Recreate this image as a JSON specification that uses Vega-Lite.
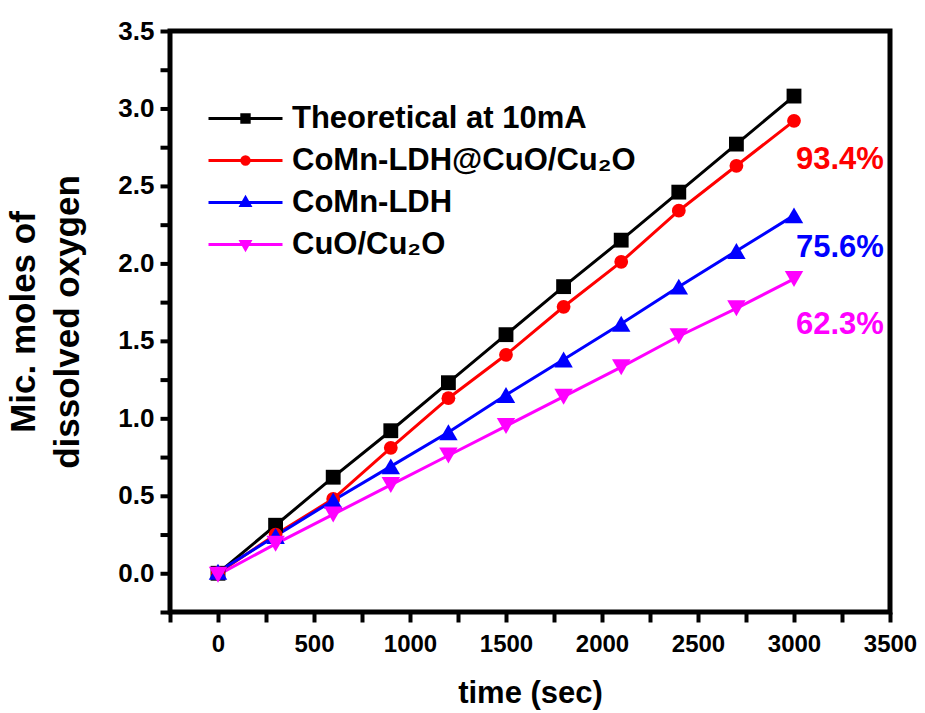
{
  "$schema": "https://vega.github.io/schema/vega-lite/v6.json",
  "width": 720,
  "height": 581,
  "autosize": "none",
  "padding": {"left": 170, "top": 31, "right": 35, "bottom": 101},
  "background": "white",
  "config": {
    "font": "Liberation Sans",
    "view": {"stroke": "black", "strokeWidth": 5},
    "axis": {"grid": false, "domain": false, "labelFont": "Liberation Sans", "labelFontWeight": "bold", "labelFontSize": 24, "labelColor": "black", "titleFont": "Liberation Sans", "titleFontWeight": "bold", "titleColor": "black", "tickColor": "black", "tickWidth": 4, "tickSize": 10, "labelOverlap": false, "labelBound": false, "labelFlush": false}
  },
  "datasets": {
    "pts": [
      {"time": 0, "value": 0.00, "series": "Theoretical at 10mA"},
      {"time": 300, "value": 0.31, "series": "Theoretical at 10mA"},
      {"time": 600, "value": 0.62, "series": "Theoretical at 10mA"},
      {"time": 900, "value": 0.92, "series": "Theoretical at 10mA"},
      {"time": 1200, "value": 1.23, "series": "Theoretical at 10mA"},
      {"time": 1500, "value": 1.54, "series": "Theoretical at 10mA"},
      {"time": 1800, "value": 1.85, "series": "Theoretical at 10mA"},
      {"time": 2100, "value": 2.15, "series": "Theoretical at 10mA"},
      {"time": 2400, "value": 2.46, "series": "Theoretical at 10mA"},
      {"time": 2700, "value": 2.77, "series": "Theoretical at 10mA"},
      {"time": 3000, "value": 3.08, "series": "Theoretical at 10mA"},
      {"time": 0, "value": 0.00, "series": "CoMn-LDH@CuO/Cu₂O"},
      {"time": 300, "value": 0.25, "series": "CoMn-LDH@CuO/Cu₂O"},
      {"time": 600, "value": 0.48, "series": "CoMn-LDH@CuO/Cu₂O"},
      {"time": 900, "value": 0.81, "series": "CoMn-LDH@CuO/Cu₂O"},
      {"time": 1200, "value": 1.13, "series": "CoMn-LDH@CuO/Cu₂O"},
      {"time": 1500, "value": 1.41, "series": "CoMn-LDH@CuO/Cu₂O"},
      {"time": 1800, "value": 1.72, "series": "CoMn-LDH@CuO/Cu₂O"},
      {"time": 2100, "value": 2.01, "series": "CoMn-LDH@CuO/Cu₂O"},
      {"time": 2400, "value": 2.34, "series": "CoMn-LDH@CuO/Cu₂O"},
      {"time": 2700, "value": 2.63, "series": "CoMn-LDH@CuO/Cu₂O"},
      {"time": 3000, "value": 2.92, "series": "CoMn-LDH@CuO/Cu₂O"},
      {"time": 0, "value": 0.01, "series": "CoMn-LDH"},
      {"time": 300, "value": 0.24, "series": "CoMn-LDH"},
      {"time": 600, "value": 0.47, "series": "CoMn-LDH"},
      {"time": 900, "value": 0.69, "series": "CoMn-LDH"},
      {"time": 1200, "value": 0.91, "series": "CoMn-LDH"},
      {"time": 1500, "value": 1.15, "series": "CoMn-LDH"},
      {"time": 1800, "value": 1.38, "series": "CoMn-LDH"},
      {"time": 2100, "value": 1.61, "series": "CoMn-LDH"},
      {"time": 2400, "value": 1.85, "series": "CoMn-LDH"},
      {"time": 2700, "value": 2.08, "series": "CoMn-LDH"},
      {"time": 3000, "value": 2.31, "series": "CoMn-LDH"},
      {"time": 0, "value": -0.01, "series": "CuO/Cu₂O"},
      {"time": 300, "value": 0.19, "series": "CuO/Cu₂O"},
      {"time": 600, "value": 0.38, "series": "CuO/Cu₂O"},
      {"time": 900, "value": 0.57, "series": "CuO/Cu₂O"},
      {"time": 1200, "value": 0.76, "series": "CuO/Cu₂O"},
      {"time": 1500, "value": 0.95, "series": "CuO/Cu₂O"},
      {"time": 1800, "value": 1.14, "series": "CuO/Cu₂O"},
      {"time": 2100, "value": 1.33, "series": "CuO/Cu₂O"},
      {"time": 2400, "value": 1.53, "series": "CuO/Cu₂O"},
      {"time": 2700, "value": 1.71, "series": "CuO/Cu₂O"},
      {"time": 3000, "value": 1.90, "series": "CuO/Cu₂O"}
    ],
    "labels": [
      {"time": 3000, "value": 2.67, "label": "93.4%", "series": "CoMn-LDH@CuO/Cu₂O"},
      {"time": 3000, "value": 2.10, "label": "75.6%", "series": "CoMn-LDH"},
      {"time": 3000, "value": 1.60, "label": "62.3%", "series": "CuO/Cu₂O"}
    ]
  },
  "resolve": {"axis": {"y": "independent"}},
  "layer": [
    {
      "encoding": {
        "x": {"field": "time", "type": "quantitative", "scale": {"domain": [-250, 3500], "nice": false, "zero": false},
          "axis": {"title": "time (sec)", "titleFontSize": 31, "titlePadding": 22, "values": [-250, 0, 250, 500, 750, 1000, 1250, 1500, 1750, 2000, 2250, 2500, 2750, 3000, 3250, 3500], "labelExpr": "datum.value % 500 === 0 ? datum.value + '' : ''", "labelPadding": 10}},
        "y": {"field": "value", "type": "quantitative", "scale": {"domain": [-0.25, 3.5], "nice": false, "zero": false},
          "axis": {"orient": "left", "ticks": false, "zindex": 0, "title": ["Mic. moles of", "dissolved oxygen"], "titleFontSize": 35, "titleLineHeight": 44, "titlePadding": 32, "labelFontSize": 26, "values": [0, 0.5, 1, 1.5, 2, 2.5, 3, 3.5], "format": ".1f", "labelPadding": 16}},
        "color": {"field": "series", "type": "nominal", "scale": {"domain": ["Theoretical at 10mA", "CoMn-LDH@CuO/Cu₂O", "CoMn-LDH", "CuO/Cu₂O"], "range": ["#000000", "#ff0000", "#0000ff", "#ff00ff"]},
          "legend": {"title": null, "orient": "none", "legendX": 60, "legendY": 72, "symbolSize": 400, "labelFontSize": 31, "labelFontWeight": "bold", "labelColor": "black", "labelFont": "Liberation Sans", "labelOffset": 31, "labelLimit": 600, "rowPadding": 10, "symbolStrokeWidth": 3, "padding": 0,
            "encode": {"symbols": {"update": {
              "shape": {"signal": "datum.value === 'Theoretical at 10mA' ? 'M-3.7,0H3.7M-0.37,-0.37H0.37V0.37H-0.37Z' : datum.value === 'CoMn-LDH' ? 'M-3.7,0H3.7M0,-0.48L0.44,0.3L-0.44,0.3Z' : datum.value === 'CuO/Cu₂O' ? 'M-3.7,0H3.7M0,0.48L0.44,-0.3L-0.44,-0.3Z' : 'M-3.7,0H3.7M0.37,0A0.37,0.37 0 1,1 -0.37,0A0.37,0.37 0 1,1 0.37,0Z'"},
              "stroke": {"signal": "datum.value === 'Theoretical at 10mA' ? '#000000' : datum.value === 'CoMn-LDH' ? '#0000ff' : datum.value === 'CuO/Cu₂O' ? '#ff00ff' : '#ff0000'"},
              "fill": {"signal": "datum.value === 'Theoretical at 10mA' ? '#000000' : datum.value === 'CoMn-LDH' ? '#0000ff' : datum.value === 'CuO/Cu₂O' ? '#ff00ff' : '#ff0000'"},
              "size": {"value": 400},
              "opacity": {"value": 1},
              "fillOpacity": {"value": 1},
              "strokeOpacity": {"value": 1},
              "strokeWidth": {"value": 3}
            }}}
          }}
      },
      "layer": [
        {"data": {"name": "pts"}, "mark": {"type": "line", "strokeWidth": 3}},
        {"data": {"name": "pts"}, "transform": [{"filter": "datum.series === 'Theoretical at 10mA'"}], "mark": {"type": "point", "filled": true, "opacity": 1, "shape": "square", "size": 220}},
        {"data": {"name": "pts"}, "transform": [{"filter": "datum.series === 'CoMn-LDH@CuO/Cu₂O'"}], "mark": {"type": "point", "filled": true, "opacity": 1, "shape": "circle", "size": 190}},
        {"data": {"name": "pts"}, "transform": [{"filter": "datum.series === 'CoMn-LDH'"}], "mark": {"type": "point", "filled": true, "opacity": 1, "shape": "triangle-up", "size": 340}},
        {"data": {"name": "pts"}, "transform": [{"filter": "datum.series === 'CuO/Cu₂O'"}], "mark": {"type": "point", "filled": true, "opacity": 1, "shape": "triangle-down", "size": 340}},
        {
          "data": {"name": "labels"},
          "mark": {"type": "text", "align": "left", "baseline": "middle", "dx": 2, "fontSize": 31, "fontWeight": "bold", "font": "Liberation Sans"},
          "encoding": {"text": {"field": "label"}}
        }
      ]
    },
    {
      "data": {"name": "labels"},
      "mark": {"type": "point", "opacity": 0},
      "encoding": {
        "x": {"field": "time", "type": "quantitative"},
        "y": {"field": "value", "type": "quantitative",
          "axis": {"orient": "left", "zindex": 2, "title": null, "labels": false, "tickRound": false, "values": [-0.25, 0, 0.25, 0.5, 0.75, 1, 1.25, 1.5, 1.75, 2, 2.25, 2.5, 2.75, 3, 3.25, 3.5]}}
      }
    }
  ]
}
